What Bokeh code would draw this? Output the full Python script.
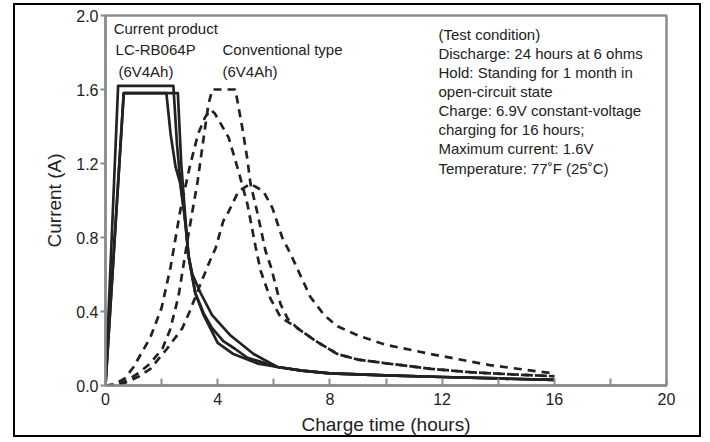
from bokeh.plotting import figure
from bokeh.models import Range1d, FixedTicker, Label, CustomJSTickFormatter, Title
from bokeh.embed import file_html
from bokeh.resources import INLINE

# ---- data ----
# Current product LC-RB064P (solid lines)
s1_x = [0.0, 0.45, 2.42, 2.55, 2.7, 2.85, 2.96, 3.1, 3.39, 3.8, 4.46, 5.28, 6.13, 7.0, 8.0, 9.0, 10.0, 12.0, 14.0, 16.0]
s1_y = [0.0, 1.62, 1.62, 1.30, 1.05, 0.88, 0.70, 0.60, 0.50, 0.38, 0.27, 0.17, 0.10, 0.08, 0.066, 0.06, 0.055, 0.046, 0.038, 0.03]
s2_x = [0.0, 0.65, 2.58, 2.7, 2.85, 2.96, 3.2, 3.5, 3.8, 4.2, 4.6, 5.06, 6.13, 7.0, 8.0, 9.0, 10.0, 12.0, 14.0, 16.0]
s2_y = [0.0, 1.58, 1.58, 1.20, 0.90, 0.70, 0.50, 0.39, 0.31, 0.24, 0.20, 0.15, 0.10, 0.08, 0.066, 0.06, 0.055, 0.046, 0.038, 0.03]
s3_x = [0.0, 0.65, 2.17, 2.32, 2.5, 2.67, 2.8, 2.96, 3.2, 3.5, 4.0, 4.56, 5.4, 6.13, 7.0, 8.0, 9.0, 10.0, 12.0, 14.0, 16.0]
s3_y = [0.0, 1.58, 1.58, 1.36, 1.18, 1.09, 0.95, 0.70, 0.50, 0.38, 0.23, 0.17, 0.12, 0.10, 0.08, 0.066, 0.06, 0.055, 0.046, 0.038, 0.03]

# Conventional type (dashed lines)
d1_x = [0.0, 0.3, 0.7, 1.0, 1.6, 2.0, 2.32, 2.67, 3.0, 3.3, 3.55, 3.75, 3.9, 4.39, 4.74, 5.06, 5.35, 5.53, 5.88, 6.24, 6.84, 7.5, 8.27, 9.0, 10.0, 11.6, 13.0, 14.5, 16.0]
d1_y = [0.0, 0.005, 0.04, 0.10, 0.26, 0.42, 0.64, 0.95, 1.18, 1.36, 1.45, 1.49, 1.47, 1.34, 1.16, 0.98, 0.75, 0.62, 0.47, 0.37, 0.31, 0.24, 0.17, 0.14, 0.12, 0.09, 0.072, 0.06, 0.05]
d2_x = [0.0, 0.4, 0.8, 1.2, 1.6, 2.03, 2.3, 2.6, 2.96, 3.28, 3.5, 3.67, 3.81, 4.63, 4.88, 5.06, 5.17, 5.42, 5.7, 5.9, 6.24, 6.5, 6.84, 7.5, 8.27, 9.0, 10.0, 11.6, 13.0, 14.5, 16.0]
d2_y = [0.0, 0.005, 0.03, 0.07, 0.12, 0.20, 0.30, 0.48, 0.82, 1.10, 1.34, 1.52, 1.60, 1.60, 1.39, 1.22, 1.09, 0.93, 0.73, 0.64, 0.44, 0.36, 0.31, 0.24, 0.17, 0.14, 0.12, 0.09, 0.072, 0.06, 0.05]
d3_x = [0.0, 0.5, 0.8, 1.2, 1.6, 2.2, 2.74, 3.0, 3.39, 3.74, 3.92, 4.2, 4.39, 4.74, 5.17, 5.63, 5.95, 6.3, 6.6, 7.3, 7.8, 8.27, 9.0, 10.0, 11.6, 13.7, 16.0]
d3_y = [0.0, 0.005, 0.02, 0.05, 0.09, 0.20, 0.31, 0.40, 0.55, 0.68, 0.74, 0.89, 0.94, 1.05, 1.09, 1.05, 0.96, 0.80, 0.71, 0.48, 0.38, 0.32, 0.27, 0.22, 0.17, 0.11, 0.065]

x_major_ticks = [0, 4, 8, 12, 16, 20]
x_minor_ticks = [2, 6, 10, 14, 18]
y_ticks = [0.0, 0.4, 0.8, 1.2, 1.6, 2.0]

test_lines = [
    "(Test condition)",
    "Discharge: 24 hours at 6 ohms",
    "Hold: Standing for 1 month in",
    "open-circuit state",
    "Charge: 6.9V constant-voltage",
    "charging for 16 hours;",
    "Maximum current: 1.6V",
    "Temperature: 77˚F (25˚C)",
]

FONT = "Liberation Sans"
INK = "#222222"
GRAY = "#8c8c8c"

p = figure(width=688, height=434, output_backend="svg", toolbar_location=None,
           x_range=Range1d(0, 20), y_range=Range1d(0, 2.0),
           min_border_left=90, min_border_right=37, min_border_top=10, min_border_bottom=54)
p.styles = {"border": "2px solid black", "margin-left": "13px", "margin-top": "3px"}

p.grid.visible = False
p.outline_line_color = GRAY
p.outline_line_width = 2.5
p.background_fill_color = "white"
p.border_fill_color = "white"

# x axis
p.xaxis.ticker = FixedTicker(ticks=x_major_ticks, minor_ticks=x_minor_ticks)
p.xaxis.major_tick_in = 7
p.xaxis.major_tick_out = 0
p.xaxis.minor_tick_in = 7
p.xaxis.minor_tick_out = 0
p.xaxis.major_label_standoff = 7
p.xaxis.axis_label = "Charge time (hours)"
p.xaxis.axis_label_standoff = 6

# y axis (ticks + tick labels)
p.yaxis.ticker = FixedTicker(ticks=y_ticks)
p.yaxis.major_tick_in = 0
p.yaxis.major_tick_out = 5
p.yaxis.major_label_standoff = 2
p.yaxis.formatter = CustomJSTickFormatter(code="return tick.toFixed(1);")

for ax in (p.xaxis, p.yaxis):
    ax.axis_line_color = GRAY
    ax.axis_line_width = 2.5
    ax.major_tick_line_color = GRAY
    ax.major_tick_line_width = 2
    ax.minor_tick_line_width = 2
    ax.major_label_text_font = FONT
    ax.major_label_text_font_size = "16px"
    ax.major_label_text_color = INK
    ax.axis_label_text_font = FONT
    ax.axis_label_text_font_size = "19px"
    ax.axis_label_text_font_style = "normal"
    ax.axis_label_text_color = INK
p.xaxis.minor_tick_line_color = GRAY
p.yaxis.minor_tick_line_color = None

# y-axis title as a left-side Title, shifted down a little like in the reference
p.add_layout(Title(text="Current (A)", align="center", offset=-17, vertical_align="top",
                   text_font=FONT, text_font_size="19px", text_font_style="normal",
                   text_color=INK, standoff=14), "left")

# curves
for xs, ys in ((s1_x, s1_y), (s2_x, s2_y), (s3_x, s3_y)):
    p.line(xs, ys, line_color=INK, line_width=2.7, line_join="round")
for xs, ys in ((d1_x, d1_y), (d2_x, d2_y), (d3_x, d3_y)):
    p.line(xs, ys, line_color=INK, line_width=2.7, line_dash="8 6")

# annotations
def add_label(x, y, text):
    p.add_layout(Label(x=x, y=y, text=text, text_font=FONT, text_font_size="15px",
                       text_color=INK, text_baseline="middle", text_align="left"))

add_label(0.29, 1.93, "Current product")
add_label(0.36, 1.815, "LC-RB064P")
add_label(0.46, 1.70, "(6V4Ah)")
add_label(4.17, 1.815, "Conventional type")
add_label(4.17, 1.70, "(6V4Ah)")

ty0 = 1.90
tdy = 0.1035
for i, t in enumerate(test_lines):
    add_label(11.87, ty0 - i * tdy, t)

open("out.html", "w").write(file_html(p, INLINE))
